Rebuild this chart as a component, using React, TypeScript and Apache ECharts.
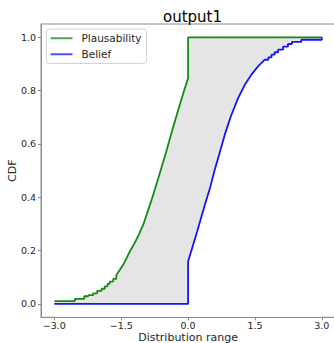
import React, { useEffect, useRef } from "react";
import * as echarts from "echarts";

// Plausibility (green): step tail, smooth middle, top after jump at 0
const greenTailX = [-3.0, -2.54, -2.33, -2.24, -2.13, -2.04, -1.94, -1.87, -1.81, -1.76, -1.68, -1.61];
const greenTailY = [0.011, 0.019, 0.029, 0.033, 0.040, 0.049, 0.057, 0.066, 0.075, 0.084, 0.094, 0.109];
const greenMidX = [-1.53, -1.46, -1.38, -1.31, -1.2, -1.1, -1.0, -0.9, -0.8, -0.7, -0.6, -0.5, -0.4, -0.3, -0.2, -0.1, 0.0];
const greenMidY = [0.128, 0.146, 0.172, 0.196, 0.228, 0.262, 0.30, 0.35, 0.40, 0.455, 0.51, 0.565, 0.625, 0.683, 0.74, 0.795, 0.847];
const greenTopX = [0.0, 3.0];
const greenTopY = [1.0, 1.0];

// Belief (blue): zero until 0, jump, smooth middle, step tail
const blueZeroX = [-3.0, 0.0];
const blueZeroY = [0.0, 0.0];
const blueMidX = [0.0, 0.1, 0.2, 0.3, 0.4, 0.5, 0.6, 0.688, 0.823, 0.957, 1.121, 1.271, 1.42, 1.57, 1.72];
const blueMidY = [0.159, 0.215, 0.27, 0.328, 0.385, 0.44, 0.505, 0.555, 0.635, 0.703, 0.772, 0.822, 0.86, 0.891, 0.916];
const blueTailX = [1.8, 1.87, 1.94, 2.02, 2.13, 2.24, 2.33, 2.54, 3.0];
const blueTailY = [0.925, 0.935, 0.944, 0.954, 0.965, 0.975, 0.983, 0.991, 1.0];

const xTicks = [-3.0, -1.5, 0.0, 1.5, 3.0];
const yTicks = [0.0, 0.2, 0.4, 0.6, 0.8, 1.0];

const FONT = "DejaVu Sans";
const SPINE = "#8c8c8c";
const TEXT = "#262626";

function pairs(xs: number[], ys: number[]) {
  return xs.map((x, i) => [x, ys[i]]);
}
function stepify(xs: number[], ys: number[], prev: number | null) {
  const out: number[][] = [];
  let p = prev;
  xs.forEach((x, i) => {
    if (p !== null) out.push([x, p]);
    out.push([x, ys[i]]);
    p = ys[i];
  });
  return out;
}

const greenData = [
  ...stepify(greenTailX, greenTailY, null),
  ...pairs(greenMidX, greenMidY),
  ...pairs(greenTopX, greenTopY),
];
const blueData = [
  ...pairs(blueZeroX, blueZeroY),
  ...pairs(blueMidX, blueMidY),
  ...stepify(blueTailX, blueTailY, blueMidY[blueMidY.length - 1]),
];

const fmt = (v: number) => v.toFixed(1).replace("-", "\u2212");

export default function App() {
  const ref = useRef<HTMLDivElement>(null);
  useEffect(() => {
    if (!ref.current) return;
    const chart = echarts.init(ref.current, undefined, { renderer: "svg" });
    const axisCommon = {
      type: "value",
      z: 10,
      nameLocation: "middle",
      nameMoveOverlap: false,
      nameTextStyle: { fontFamily: FONT, fontSize: 11, color: TEXT },
      axisLine: { show: true, onZero: false, lineStyle: { color: SPINE, width: 1 } },
      splitLine: { show: false },
    };
    chart.setOption({
      animation: false,
      title: {
        text: "output1",
        left: 187.5,
        top: 4.5,
        textAlign: "center",
        textStyle: { fontFamily: FONT, fontSize: 15, fontWeight: "normal", color: "#000" },
      },
      legend: {
        orient: "vertical",
        left: 46.5,
        top: 29,
        icon: "rect",
        itemWidth: 22,
        itemHeight: 2,
        itemGap: 3.5,
        padding: [3, 5, 3, 4],
        borderColor: "#d4d4d4",
        borderWidth: 1,
        borderRadius: 3,
        backgroundColor: "#fff",
        textStyle: { fontFamily: FONT, fontSize: 10.5, lineHeight: 12.5, color: TEXT, padding: [0, 0, 0, 4] },
        data: [
          { name: "Plausability", itemStyle: { color: "#4da64d" } },
          { name: "Belief", itemStyle: { color: "#5050ff" } },
        ],
      },
      grid: {
        left: 41,
        right: 0.8,
        top: 24,
        bottom: 25.7,
        show: true,
        borderColor: SPINE,
        borderWidth: 1,
        backgroundColor: "transparent",
        containLabel: false,
        outerBoundsMode: "none",
      },
      xAxis: {
        ...axisCommon,
        min: -3.3,
        max: 3.3,
        name: "Distribution range",
        nameGap: 14.5,
        axisTick: { show: true, length: 3, customValues: xTicks, lineStyle: { color: SPINE } },
        axisLabel: { customValues: xTicks, formatter: fmt, margin: 3.5, fontFamily: FONT, fontSize: 9.5, color: TEXT },
      },
      yAxis: {
        ...axisCommon,
        min: -0.05,
        max: 1.05,
        name: "CDF",
        nameGap: 23,
        axisTick: { show: true, length: 3, customValues: yTicks, lineStyle: { color: SPINE } },
        axisLabel: { customValues: yTicks, formatter: fmt, margin: 5, fontFamily: FONT, fontSize: 9.5, color: TEXT },
      },
      series: [
        {
          name: "fillUpper",
          type: "line",
          data: greenData,
          showSymbol: false,
          symbol: "none",
          lineStyle: { width: 0 },
          areaStyle: { color: "#e5e5e5", opacity: 1, origin: "start" },
          z: 1,
          silent: true,
        },
        {
          name: "fillLower",
          type: "line",
          data: blueData,
          showSymbol: false,
          symbol: "none",
          lineStyle: { width: 0 },
          areaStyle: { color: "#ffffff", opacity: 1, origin: "start" },
          z: 2,
          silent: true,
        },
        {
          name: "Plausability",
          type: "line",
          data: greenData,
          showSymbol: false,
          symbol: "none",
          color: "#148c14",
          lineStyle: { width: 1.8, color: "#148c14" },
          z: 4,
        },
        {
          name: "Belief",
          type: "line",
          data: blueData,
          showSymbol: false,
          symbol: "none",
          color: "#1414ff",
          lineStyle: { width: 1.8, color: "#1414ff" },
          z: 5,
        },
      ],
    });
    return () => chart.dispose();
  }, []);
  return (
    <div style={{ position: "fixed", left: 0, top: 0, width: 334, height: 343, overflow: "hidden", background: "#fff" }}>
      <div ref={ref} style={{ width: 336, height: 343 }} />
    </div>
  );
}
